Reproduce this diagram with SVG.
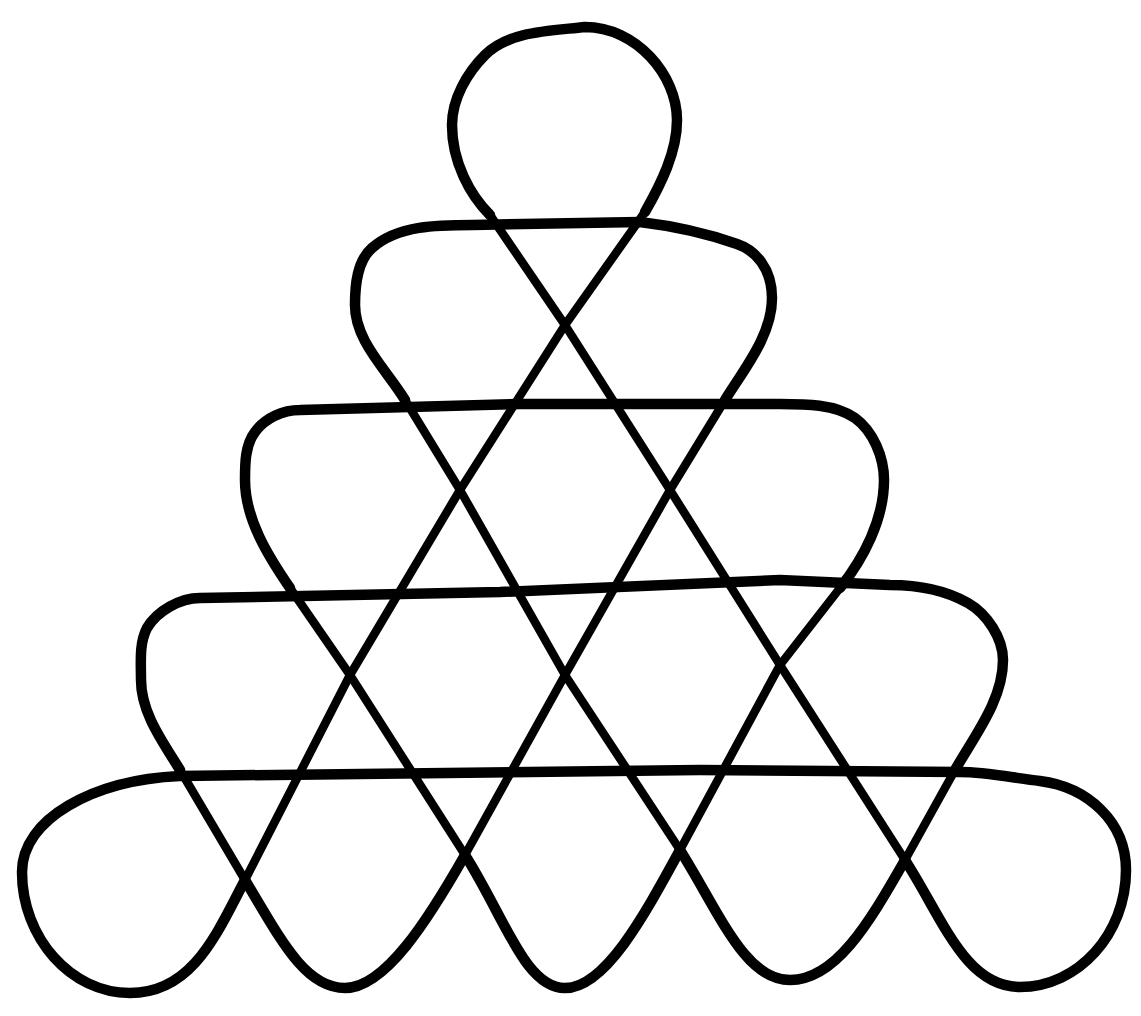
<svg xmlns="http://www.w3.org/2000/svg" width="1141" height="1016" viewBox="0 0 1141 1016">
<style>
.d{fill:none;stroke:#000;stroke-width:8.5;stroke-linejoin:round;stroke-linecap:round}
.c{fill:none;stroke:#000;stroke-width:10.5;stroke-linejoin:round;stroke-linecap:round}
</style>
<rect width="1141" height="1016" fill="#fff"/>
<g id="pattern">
<g id="diagonals">
<path class="d" d="M 245 880 L 350 675 L 460 490 L 565 325 L 645 212"/>
<path class="d" d="M 490 215 L 565 325 L 670 490 L 780 665 L 905 860"/>
<path class="d" d="M 405 400 L 460 490 L 565 675 L 680 850"/>
<path class="d" d="M 905 860 L 955 770"/>
<path class="d" d="M 180 770 L 245 880"/>
<path class="d" d="M 465 855 L 565 675 L 670 490 L 725 400"/>
<path class="d" d="M 290 588 L 350 675 L 465 855"/>
<path class="d" d="M 680 850 L 780 665 L 840 588"/>
</g>
<g id="loops">
<path class="c" d="M 645 212 C 661 184, 677 152, 677 120 C 677 75, 636 27, 585 27 C 550 31, 509 31, 485 55 C 467 73, 452 99, 452 125 C 452 162, 470 195, 490 215"/>
<path class="c" d="M 905 860 C 943 919, 965 987, 1020 987 C 1078 987, 1126 934, 1126 870 C 1126 821, 1087 787, 1040 781 C 1013 778, 987 772, 960 772 L 700 770 L 180 776 C 93 780, 22 819, 22 872 C 22 938, 71 993, 130 993 C 193 993, 217 933, 245 880"/>
<path class="c" d="M 680 850 C 720 914, 745 980, 790 980 C 835 980, 868 925, 905 860"/>
<path class="c" d="M 955 770 C 975 735, 1003 700, 1003 660 C 1003 638, 987 614, 968 603 C 945 590, 917 585, 890 585 L 780 580 L 500 592 L 200 598 C 180 598, 157 611, 147 628 C 139 643, 141 663, 141 680 C 141 713, 163 742, 180 770"/>
<path class="c" d="M 245 880 C 281 940, 305 988, 345 988 C 385 988, 428 920, 465 855"/>
<path class="c" d="M 725 400 C 745 368, 772 335, 772 298 C 772 268, 755 250, 737 244 C 720 238, 690 228, 640 222 L 473 225 C 438 225, 398 225, 372 248 C 357 261, 355 285, 355 305 C 355 341, 386 369, 405 400"/>
<path class="c" d="M 465 855 C 505 918, 525 988, 565 988 C 605 988, 644 916, 680 850"/>
<path class="c" d="M 840 588 C 864 558, 884 519, 884 480 C 884 457, 873 431, 855 418 C 835 404, 805 404, 780 404 L 520 404 L 300 410 C 283 410, 265 418, 255 432 C 245 445, 245 464, 245 480 C 245 519, 268 556, 290 588"/>
</g>
</g>
</svg>
